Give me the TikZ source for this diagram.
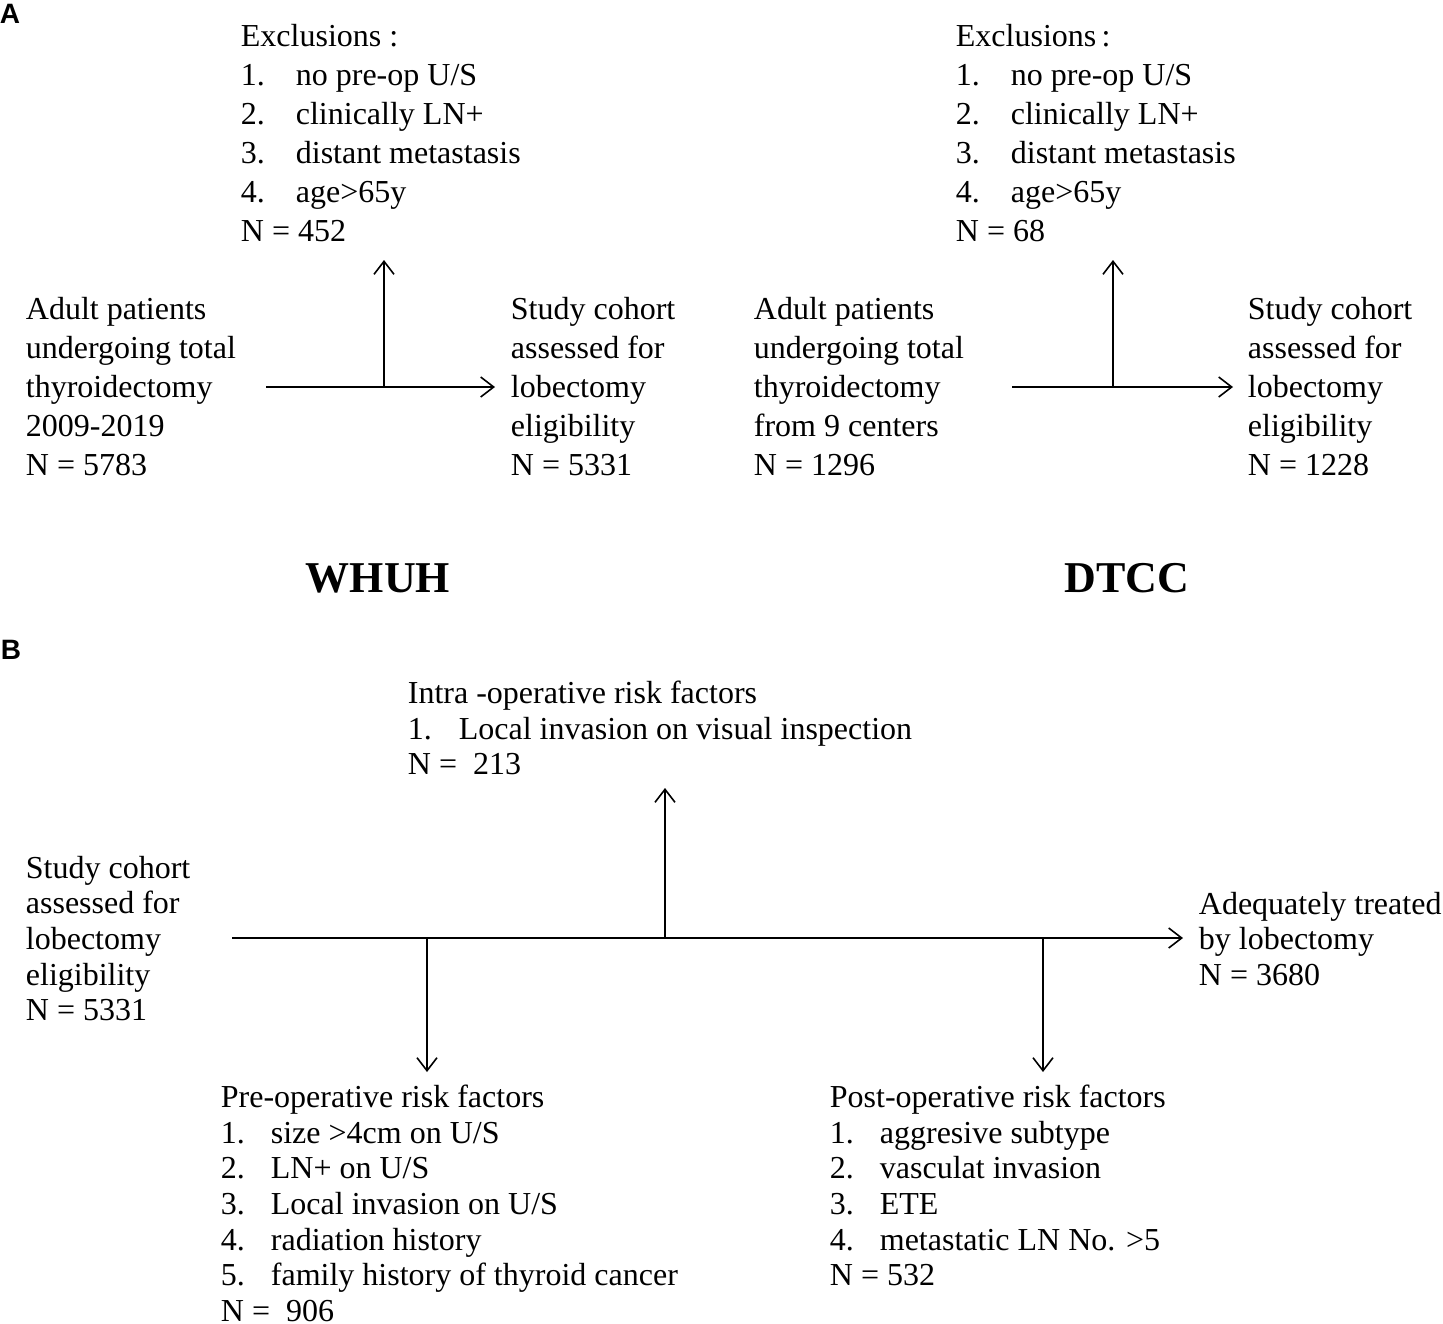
\documentclass[tikz,border=0pt]{standalone}
\usepackage{fontspec}
\setmainfont{Liberation Serif}
\newfontfamily\labfont{Liberation Sans}
\usetikzlibrary{arrows.meta}
\newcommand{\itm}[3][55pt]{\makebox[#1][l]{#2}#3}

\begin{document}
\begin{tikzpicture}[x=1pt,y=-1pt,line width=1.8pt,
    >={Straight Barb[length=13pt,width=20pt,line width=1.6pt]},
    txtA/.style={anchor=north west,inner sep=0pt,align=left,font=\fontsize{32}{39}\selectfont},
    txtB/.style={anchor=north west,inner sep=0pt,align=left,font=\fontsize{32}{35.7}\selectfont},
    panel/.style={anchor=center,inner sep=0pt,font=\labfont\bfseries\fontsize{28}{32}\selectfont},
    site/.style={anchor=center,inner sep=0pt,font=\bfseries\fontsize{44}{50}\selectfont}]
    \useasboundingbox (0,0) rectangle (1443,1323);

    %/ Panel A
    \node[panel] (labA) at (10,14) {A};
    \node[txtA] (exclW) at (240,23) {Exclusions :\\
        \itm{1.}{no pre-op U/S}\\
        \itm{2.}{clinically LN+}\\
        \itm{3.}{distant metastasis}\\
        \itm{4.}{age>65y}\\
        N = 452};
    \node[txtA] (exclD) at (955,23) {Exclusions\,:\\
        \itm{1.}{no pre-op U/S}\\
        \itm{2.}{clinically LN+}\\
        \itm{3.}{distant metastasis}\\
        \itm{4.}{age>65y}\\
        N = 68};
    \node[txtA] (adultW) at (25,296) {Adult patients\\ undergoing total\\ thyroidectomy\\ 2009-2019\\ N = 5783};
    \node[txtA] (cohortW) at (510,296) {Study cohort\\ assessed for\\ lobectomy\\ eligibility\\ N = 5331};
    \node[txtA] (adultD) at (753,296) {Adult patients\\ undergoing total\\ thyroidectomy\\ from 9 centers\\ N = 1296};
    \node[txtA] (cohortD) at (1247,296) {Study cohort\\ assessed for\\ lobectomy\\ eligibility\\ N = 1228};
    \node[site] (whuh) at (378,578) {WHUH};
    \node[site] (dtcc) at (1127,578) {DTCC};

    % arrows WHUH
    \coordinate (inW) at (266,387);
    \coordinate (outW) at (495,387);
    \coordinate (jW) at (384,387);
    \coordinate (exW) at (384,260);
    \draw[->] (inW) -- (outW);
    \draw[->] (jW) -- (exW);

    % arrows DTCC
    \coordinate (inD) at (1012,387);
    \coordinate (outD) at (1233,387);
    \coordinate (jD) at (1113,387);
    \coordinate (exD) at (1113,260);
    \draw[->] (inD) -- (outD);
    \draw[->] (jD) -- (exD);

    %/ Panel B
    \node[panel] (labB) at (11,650) {B};
    \node[txtB] (intra) at (407,680) {Intra -operative risk factors\\
        \itm[51pt]{1.}{Local invasion on visual inspection}\\
        N =\ \ 213};
    \node[txtB] (cohort) at (25,855) {Study cohort\\ assessed for\\ lobectomy\\ eligibility\\ N = 5331};
    \node[txtB] (treated) at (1198,891) {Adequately treated\\ by lobectomy\\ N = 3680};
    \node[txtB] (pre) at (220,1084) {Pre-operative risk factors\\
        \itm[50pt]{1.}{size >4cm on U/S}\\
        \itm[50pt]{2.}{LN+ on U/S}\\
        \itm[50pt]{3.}{Local invasion on U/S}\\
        \itm[50pt]{4.}{radiation history}\\
        \itm[50pt]{5.}{family history of thyroid cancer}\\
        N =\ \ 906};
    \node[txtB] (post) at (829,1084) {Post-operative risk factors\\
        \itm[50pt]{1.}{aggresive subtype}\\
        \itm[50pt]{2.}{vasculat invasion}\\
        \itm[50pt]{3.}{ETE}\\
        \itm[50pt]{4.}{metastatic LN No. >5}\\
        N = 532};

    % main line and branches
    \coordinate (inB) at (232,938);
    \coordinate (outB) at (1183,938);
    \coordinate (jPre) at (427,938);
    \coordinate (jIntra) at (665,938);
    \coordinate (jPost) at (1043,938);
    \coordinate (toPre) at (427,1072);
    \coordinate (toIntra) at (665,788);
    \coordinate (toPost) at (1043,1072);
    \draw[->] (inB) -- (outB);
    \draw[->] (jIntra) -- (toIntra);
    \draw[->] (jPre) -- (toPre);
    \draw[->] (jPost) -- (toPost);
\end{tikzpicture}
\end{document}
